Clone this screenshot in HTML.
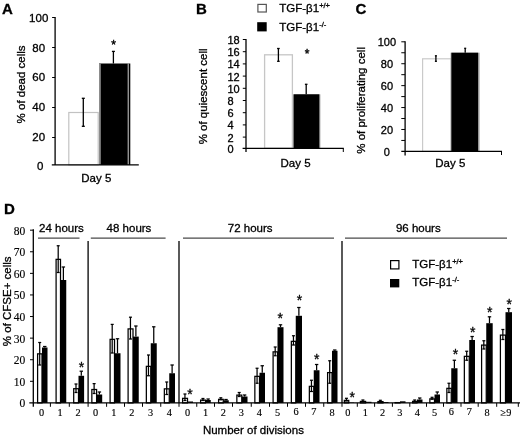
<!DOCTYPE html>
<html lang="en"><head><meta charset="utf-8"><title>Figure</title>
<style>
html,body{margin:0;padding:0;background:#fff;}
body{width:520px;height:436px;overflow:hidden;}
svg{display:block;will-change:transform;filter:grayscale(1)}
text{font-family:"Liberation Sans",Arial,sans-serif;font-size:11.5px;fill:#000;stroke:#000;stroke-width:0.3px}
.ser{font-family:"Liberation Serif","Times New Roman",serif;font-size:11.5px;stroke-width:0.15px}
.sx{font-size:10.3px}
.pl{font-weight:bold;font-size:15px}
.sup{font-size:7.5px}
.t11{font-size:11px}
.ax{stroke:#000;stroke-width:1.3;fill:none}
.bl{stroke:#000;stroke-width:1.2;fill:none}
.tk{stroke:#000;stroke-width:1;fill:none}
.eb{stroke:#000;stroke-width:1.3;fill:none}
.ebd{stroke:#000;stroke-width:1.25;fill:none}
.wb{fill:#fff;stroke:#000;stroke-width:1.25}
.bb{fill:#000;stroke:none}
.gl{stroke:#4a4a4a;stroke-width:1.2;fill:none}
.ast{font-size:12px;stroke-width:0.4px}
.astd{font-size:14px}
</style></head><body>
<svg width="520" height="436" viewBox="0 0 520 436">
<rect x="0" y="0" width="520" height="436" fill="#fff"/>

<g id="panelA">
<text x="2" y="13.5" class="pl">A</text>
<rect x="68.80" y="112.50" width="29.40" height="52.40" fill="#fff" stroke="#c2c2c2" stroke-width="1.2"/>
<rect x="99.00" y="63.50" width="31.30" height="101.40" fill="#000"/>
<rect x="99.00" y="63.50" width="1.80" height="101.40" fill="#8c8c8c"/>
<rect x="127.70" y="63.50" width="1.00" height="101.40" fill="#d0d0d0"/>
<line x1="83.30" y1="98.30" x2="83.30" y2="126.30" class="eb"/>
<line x1="81.80" y1="98.30" x2="84.80" y2="98.30" class="eb"/>
<line x1="81.80" y1="126.30" x2="84.80" y2="126.30" class="eb"/>
<line x1="113.40" y1="51.40" x2="113.40" y2="63.50" class="eb"/>
<line x1="111.90" y1="51.40" x2="114.90" y2="51.40" class="eb"/>
<text x="113.5" y="49.0" class="ast" text-anchor="middle">*</text>
<line x1="55.10" y1="17.00" x2="55.10" y2="164.90" class="ax"/>
<line x1="51.80" y1="164.90" x2="138.80" y2="164.90" class="bl"/>
<line x1="52.10" y1="17.50" x2="55.10" y2="17.50" class="tk"/>
<text x="38.7" y="22.1" text-anchor="middle">100</text>
<line x1="52.10" y1="47.50" x2="55.10" y2="47.50" class="tk"/>
<text x="38.7" y="51.8" text-anchor="middle">80</text>
<line x1="52.10" y1="77.50" x2="55.10" y2="77.50" class="tk"/>
<text x="38.7" y="81.4" text-anchor="middle">60</text>
<line x1="52.10" y1="107.50" x2="55.10" y2="107.50" class="tk"/>
<text x="38.7" y="111.0" text-anchor="middle">40</text>
<line x1="52.10" y1="137.50" x2="55.10" y2="137.50" class="tk"/>
<text x="38.7" y="140.6" text-anchor="middle">20</text>
<text x="40.2" y="170.2" text-anchor="middle">0</text>
<text x="96.3" y="182.2" text-anchor="middle">Day 5</text>
<text transform="translate(24.9,84.4) rotate(-90)" text-anchor="middle">% of dead cells</text>
</g>
<g id="panelB">
<text x="196" y="14" class="pl">B</text>
<rect x="257.90" y="4.40" width="8.40" height="7.60" fill="#fff" stroke="#555" stroke-width="1.2"/>
<rect x="257.20" y="22.20" width="9.50" height="9.20" fill="#000"/>
<text x="279.3" y="11.9">TGF-β1<tspan class="sup" dy="-4">+/+</tspan></text>
<text x="279.3" y="30.5">TGF-β1<tspan class="sup" dy="-4">-/-</tspan></text>
<rect x="264.60" y="54.80" width="27.80" height="93.50" fill="#fff" stroke="#c6c6c6" stroke-width="1.3"/>
<rect x="293.00" y="94.30" width="27.40" height="54.00" fill="#a8a8a8"/>
<rect x="293.70" y="94.30" width="25.60" height="54.00" fill="#000"/>
<line x1="278.40" y1="48.50" x2="278.40" y2="61.30" class="eb"/>
<line x1="277.10" y1="48.50" x2="279.70" y2="48.50" class="eb"/>
<line x1="277.10" y1="61.30" x2="279.70" y2="61.30" class="eb"/>
<line x1="306.20" y1="84.30" x2="306.20" y2="94.30" class="eb"/>
<line x1="304.90" y1="84.30" x2="307.50" y2="84.30" class="eb"/>
<text x="307.0" y="57.8" class="ast" text-anchor="middle">*</text>
<line x1="246.00" y1="39.00" x2="246.00" y2="152.00" class="ax"/>
<line x1="242.60" y1="148.30" x2="343.80" y2="148.30" class="bl"/>
<line x1="343.30" y1="148.30" x2="343.30" y2="152.00" class="tk"/>
<line x1="242.80" y1="39.50" x2="246.00" y2="39.50" class="tk"/>
<text x="227.5" y="44.0" class="t11" text-anchor="start">18</text>
<line x1="242.80" y1="51.70" x2="246.00" y2="51.70" class="tk"/>
<text x="227.5" y="56.2" class="t11" text-anchor="start">16</text>
<line x1="242.80" y1="63.90" x2="246.00" y2="63.90" class="tk"/>
<text x="227.5" y="68.4" class="t11" text-anchor="start">14</text>
<line x1="242.80" y1="76.10" x2="246.00" y2="76.10" class="tk"/>
<text x="227.5" y="80.6" class="t11" text-anchor="start">12</text>
<line x1="242.80" y1="88.30" x2="246.00" y2="88.30" class="tk"/>
<text x="227.5" y="92.8" class="t11" text-anchor="start">10</text>
<line x1="242.80" y1="100.50" x2="246.00" y2="100.50" class="tk"/>
<text x="227.5" y="105.0" class="t11" text-anchor="start">8</text>
<line x1="242.80" y1="112.70" x2="246.00" y2="112.70" class="tk"/>
<text x="227.5" y="117.2" class="t11" text-anchor="start">6</text>
<line x1="242.80" y1="124.90" x2="246.00" y2="124.90" class="tk"/>
<text x="227.5" y="129.4" class="t11" text-anchor="start">4</text>
<line x1="242.80" y1="137.10" x2="246.00" y2="137.10" class="tk"/>
<text x="227.5" y="141.6" class="t11" text-anchor="start">2</text>
<text x="227.5" y="153.2" class="t11" text-anchor="start">0</text>
<text x="295.6" y="167" text-anchor="middle">Day 5</text>
<text transform="translate(207.3,96.4) rotate(-90)" text-anchor="middle">% of quiescent cell</text>
</g>
<g id="panelC">
<text x="355.5" y="14" class="pl">C</text>
<rect x="422.60" y="58.80" width="28.60" height="92.60" fill="#fff" stroke="#cacaca" stroke-width="1.2"/>
<rect x="450.60" y="52.70" width="29.00" height="98.70" fill="#a8a8a8"/>
<rect x="451.40" y="52.70" width="26.70" height="98.70" fill="#000"/>
<line x1="435.90" y1="55.80" x2="435.90" y2="61.30" class="eb"/>
<line x1="434.90" y1="55.80" x2="436.90" y2="55.80" class="eb"/>
<line x1="434.90" y1="61.30" x2="436.90" y2="61.30" class="eb"/>
<line x1="465.20" y1="48.30" x2="465.20" y2="52.70" class="eb"/>
<line x1="464.20" y1="48.30" x2="466.20" y2="48.30" class="eb"/>
<line x1="405.10" y1="41.30" x2="405.10" y2="155.50" class="ax"/>
<line x1="401.30" y1="151.40" x2="502.00" y2="151.40" class="bl"/>
<line x1="501.50" y1="151.40" x2="501.50" y2="155.00" class="tk"/>
<line x1="401.30" y1="41.80" x2="405.10" y2="41.80" class="tk"/>
<text x="386.9" y="46.2" class="t11" text-anchor="middle">100</text>
<line x1="401.30" y1="52.76" x2="405.10" y2="52.76" class="tk"/>
<line x1="401.30" y1="63.72" x2="405.10" y2="63.72" class="tk"/>
<text x="386.9" y="68.1" class="t11" text-anchor="middle">80</text>
<line x1="401.30" y1="74.68" x2="405.10" y2="74.68" class="tk"/>
<line x1="401.30" y1="85.64" x2="405.10" y2="85.64" class="tk"/>
<text x="386.9" y="90.0" class="t11" text-anchor="middle">60</text>
<line x1="401.30" y1="96.60" x2="405.10" y2="96.60" class="tk"/>
<line x1="401.30" y1="107.56" x2="405.10" y2="107.56" class="tk"/>
<text x="386.9" y="112.0" class="t11" text-anchor="middle">40</text>
<line x1="401.30" y1="118.52" x2="405.10" y2="118.52" class="tk"/>
<line x1="401.30" y1="129.48" x2="405.10" y2="129.48" class="tk"/>
<text x="386.9" y="133.9" class="t11" text-anchor="middle">20</text>
<line x1="401.30" y1="140.44" x2="405.10" y2="140.44" class="tk"/>
<text x="386.9" y="155.8" class="t11" text-anchor="middle">0</text>
<text x="450.3" y="167" text-anchor="middle">Day 5</text>
<text transform="translate(365,100.4) rotate(-90)" text-anchor="middle">% of proliferating cell</text>
</g>
<g id="panelD">
<text x="4" y="214" class="pl">D</text>
<rect x="42.00" y="347.50" width="5.50" height="55.40" fill="#000"/>
<rect x="37.60" y="353.85" width="4.40" height="49.05" class="wb"/>
<line x1="39.70" y1="342.50" x2="39.70" y2="365.00" class="ebd"/>
<line x1="38.20" y1="342.50" x2="41.20" y2="342.50" class="ebd"/>
<line x1="38.20" y1="365.00" x2="41.20" y2="365.00" class="ebd"/>
<line x1="44.75" y1="346.50" x2="44.75" y2="347.50" class="ebd"/>
<line x1="43.05" y1="346.50" x2="46.45" y2="346.50" class="ebd"/>
<text x="41.7" y="415.6" class="ser sx" text-anchor="middle">0</text>
<rect x="60.50" y="280.00" width="5.75" height="122.90" fill="#000"/>
<rect x="56.10" y="259.35" width="4.40" height="143.55" class="wb"/>
<line x1="58.20" y1="245.75" x2="58.20" y2="272.50" class="ebd"/>
<line x1="56.70" y1="245.75" x2="59.70" y2="245.75" class="ebd"/>
<line x1="56.70" y1="272.50" x2="59.70" y2="272.50" class="ebd"/>
<line x1="63.38" y1="267.00" x2="63.38" y2="280.00" class="ebd"/>
<line x1="61.67" y1="267.00" x2="65.08" y2="267.00" class="ebd"/>
<text x="60" y="415.6" class="ser sx" text-anchor="middle">1</text>
<rect x="78.50" y="375.80" width="5.60" height="27.10" fill="#000"/>
<rect x="73.70" y="388.70" width="4.80" height="14.20" class="wb"/>
<line x1="76.00" y1="384.00" x2="76.00" y2="392.50" class="ebd"/>
<line x1="74.50" y1="384.00" x2="77.50" y2="384.00" class="ebd"/>
<line x1="74.50" y1="392.50" x2="77.50" y2="392.50" class="ebd"/>
<line x1="81.30" y1="371.20" x2="81.30" y2="375.80" class="ebd"/>
<line x1="79.60" y1="371.20" x2="83.00" y2="371.20" class="ebd"/>
<text x="81.5" y="372.4" class="astd" text-anchor="middle">*</text>
<text x="78" y="415.6" class="ser sx" text-anchor="middle">2</text>
<rect x="96.60" y="394.50" width="5.60" height="8.40" fill="#000"/>
<rect x="91.85" y="389.50" width="4.75" height="13.40" class="wb"/>
<line x1="94.12" y1="383.60" x2="94.12" y2="393.50" class="ebd"/>
<line x1="92.62" y1="383.60" x2="95.62" y2="383.60" class="ebd"/>
<line x1="92.62" y1="393.50" x2="95.62" y2="393.50" class="ebd"/>
<line x1="99.40" y1="392.00" x2="99.40" y2="394.50" class="ebd"/>
<line x1="97.70" y1="392.00" x2="101.10" y2="392.00" class="ebd"/>
<text x="95.6" y="415.6" class="ser sx" text-anchor="middle">0</text>
<rect x="114.50" y="353.25" width="6.00" height="49.65" fill="#000"/>
<rect x="110.10" y="339.35" width="4.40" height="63.55" class="wb"/>
<line x1="112.20" y1="324.40" x2="112.20" y2="353.00" class="ebd"/>
<line x1="110.70" y1="324.40" x2="113.70" y2="324.40" class="ebd"/>
<line x1="110.70" y1="353.00" x2="113.70" y2="353.00" class="ebd"/>
<line x1="117.50" y1="338.75" x2="117.50" y2="353.25" class="ebd"/>
<line x1="115.80" y1="338.75" x2="119.20" y2="338.75" class="ebd"/>
<text x="113.75" y="415.6" class="ser sx" text-anchor="middle">1</text>
<rect x="133.00" y="336.60" width="5.75" height="66.30" fill="#000"/>
<rect x="128.10" y="328.90" width="4.90" height="74.00" class="wb"/>
<line x1="130.45" y1="317.20" x2="130.45" y2="339.00" class="ebd"/>
<line x1="128.95" y1="317.20" x2="131.95" y2="317.20" class="ebd"/>
<line x1="128.95" y1="339.00" x2="131.95" y2="339.00" class="ebd"/>
<line x1="135.88" y1="326.00" x2="135.88" y2="336.60" class="ebd"/>
<line x1="134.18" y1="326.00" x2="137.57" y2="326.00" class="ebd"/>
<text x="131.75" y="415.6" class="ser sx" text-anchor="middle">2</text>
<rect x="150.75" y="343.25" width="6.00" height="59.65" fill="#000"/>
<rect x="146.35" y="366.35" width="4.40" height="36.55" class="wb"/>
<line x1="148.45" y1="355.00" x2="148.45" y2="375.75" class="ebd"/>
<line x1="146.95" y1="355.00" x2="149.95" y2="355.00" class="ebd"/>
<line x1="146.95" y1="375.75" x2="149.95" y2="375.75" class="ebd"/>
<line x1="153.75" y1="326.80" x2="153.75" y2="343.25" class="ebd"/>
<line x1="152.05" y1="326.80" x2="155.45" y2="326.80" class="ebd"/>
<text x="150.5" y="415.6" class="ser sx" text-anchor="middle">3</text>
<rect x="169.25" y="373.25" width="5.75" height="29.65" fill="#000"/>
<rect x="164.35" y="388.85" width="4.90" height="14.05" class="wb"/>
<line x1="166.70" y1="382.00" x2="166.70" y2="394.50" class="ebd"/>
<line x1="165.20" y1="382.00" x2="168.20" y2="382.00" class="ebd"/>
<line x1="165.20" y1="394.50" x2="168.20" y2="394.50" class="ebd"/>
<line x1="172.12" y1="365.00" x2="172.12" y2="373.25" class="ebd"/>
<line x1="170.43" y1="365.00" x2="173.82" y2="365.00" class="ebd"/>
<text x="169.25" y="415.6" class="ser sx" text-anchor="middle">4</text>
<rect x="187.50" y="401.50" width="5.50" height="1.40" fill="#000"/>
<rect x="182.60" y="398.35" width="4.90" height="4.55" class="wb"/>
<line x1="184.95" y1="394.00" x2="184.95" y2="400.50" class="ebd"/>
<line x1="183.45" y1="394.00" x2="186.45" y2="394.00" class="ebd"/>
<line x1="183.45" y1="400.50" x2="186.45" y2="400.50" class="ebd"/>
<text x="190.0" y="399.3" class="astd" text-anchor="middle">*</text>
<text x="187.5" y="415.6" class="ser sx" text-anchor="middle">0</text>
<rect x="205.50" y="400.00" width="5.25" height="2.90" fill="#000"/>
<rect x="200.60" y="400.10" width="4.90" height="2.80" class="wb"/>
<line x1="202.95" y1="398.50" x2="202.95" y2="400.50" class="ebd"/>
<line x1="201.45" y1="398.50" x2="204.45" y2="398.50" class="ebd"/>
<line x1="201.45" y1="400.50" x2="204.45" y2="400.50" class="ebd"/>
<line x1="208.12" y1="399.00" x2="208.12" y2="400.00" class="ebd"/>
<line x1="206.43" y1="399.00" x2="209.82" y2="399.00" class="ebd"/>
<text x="205.5" y="415.6" class="ser sx" text-anchor="middle">1</text>
<rect x="223.25" y="400.25" width="5.50" height="2.65" fill="#000"/>
<rect x="218.60" y="399.35" width="4.65" height="3.55" class="wb"/>
<line x1="220.82" y1="397.80" x2="220.82" y2="399.80" class="ebd"/>
<line x1="219.32" y1="397.80" x2="222.32" y2="397.80" class="ebd"/>
<line x1="219.32" y1="399.80" x2="222.32" y2="399.80" class="ebd"/>
<line x1="226.00" y1="399.50" x2="226.00" y2="400.25" class="ebd"/>
<line x1="224.30" y1="399.50" x2="227.70" y2="399.50" class="ebd"/>
<text x="223.25" y="415.6" class="ser sx" text-anchor="middle">2</text>
<rect x="241.75" y="396.50" width="5.75" height="6.40" fill="#000"/>
<rect x="236.85" y="395.10" width="4.90" height="7.80" class="wb"/>
<line x1="239.20" y1="392.50" x2="239.20" y2="396.50" class="ebd"/>
<line x1="237.70" y1="392.50" x2="240.70" y2="392.50" class="ebd"/>
<line x1="237.70" y1="396.50" x2="240.70" y2="396.50" class="ebd"/>
<line x1="244.62" y1="395.00" x2="244.62" y2="396.50" class="ebd"/>
<line x1="242.93" y1="395.00" x2="246.32" y2="395.00" class="ebd"/>
<text x="241.25" y="415.6" class="ser sx" text-anchor="middle">3</text>
<rect x="259.50" y="372.75" width="5.50" height="30.15" fill="#000"/>
<rect x="254.85" y="376.35" width="4.65" height="26.55" class="wb"/>
<line x1="257.07" y1="368.25" x2="257.07" y2="383.25" class="ebd"/>
<line x1="255.57" y1="368.25" x2="258.57" y2="368.25" class="ebd"/>
<line x1="255.57" y1="383.25" x2="258.57" y2="383.25" class="ebd"/>
<line x1="262.25" y1="365.75" x2="262.25" y2="372.75" class="ebd"/>
<line x1="260.55" y1="365.75" x2="263.95" y2="365.75" class="ebd"/>
<text x="259.25" y="415.6" class="ser sx" text-anchor="middle">4</text>
<rect x="277.50" y="327.20" width="6.00" height="75.70" fill="#000"/>
<rect x="273.10" y="351.85" width="4.40" height="51.05" class="wb"/>
<line x1="275.20" y1="347.00" x2="275.20" y2="355.75" class="ebd"/>
<line x1="273.70" y1="347.00" x2="276.70" y2="347.00" class="ebd"/>
<line x1="273.70" y1="355.75" x2="276.70" y2="355.75" class="ebd"/>
<line x1="280.50" y1="324.80" x2="280.50" y2="327.20" class="ebd"/>
<line x1="278.80" y1="324.80" x2="282.20" y2="324.80" class="ebd"/>
<text x="280.2" y="323.1" class="astd" text-anchor="middle">*</text>
<text x="277.5" y="415.6" class="ser sx" text-anchor="middle">5</text>
<rect x="295.75" y="315.80" width="6.25" height="87.10" fill="#000"/>
<rect x="291.35" y="341.35" width="4.40" height="61.55" class="wb"/>
<line x1="293.45" y1="335.75" x2="293.45" y2="345.00" class="ebd"/>
<line x1="291.95" y1="335.75" x2="294.95" y2="335.75" class="ebd"/>
<line x1="291.95" y1="345.00" x2="294.95" y2="345.00" class="ebd"/>
<line x1="298.88" y1="307.50" x2="298.88" y2="315.80" class="ebd"/>
<line x1="297.18" y1="307.50" x2="300.57" y2="307.50" class="ebd"/>
<text x="299.6" y="305.3" class="astd" text-anchor="middle">*</text>
<text x="296" y="414.5" class="ser sx" text-anchor="middle">6</text>
<rect x="313.75" y="370.25" width="5.75" height="32.65" fill="#000"/>
<rect x="309.35" y="386.35" width="4.40" height="16.55" class="wb"/>
<line x1="311.45" y1="380.25" x2="311.45" y2="391.50" class="ebd"/>
<line x1="309.95" y1="380.25" x2="312.95" y2="380.25" class="ebd"/>
<line x1="309.95" y1="391.50" x2="312.95" y2="391.50" class="ebd"/>
<line x1="316.62" y1="364.50" x2="316.62" y2="370.25" class="ebd"/>
<line x1="314.93" y1="364.50" x2="318.32" y2="364.50" class="ebd"/>
<text x="316.8" y="364.3" class="astd" text-anchor="middle">*</text>
<text x="313.75" y="414.5" class="ser sx" text-anchor="middle">7</text>
<rect x="332.00" y="350.75" width="5.50" height="52.15" fill="#000"/>
<rect x="327.60" y="372.60" width="4.40" height="30.30" class="wb"/>
<line x1="329.70" y1="360.75" x2="329.70" y2="383.25" class="ebd"/>
<line x1="328.20" y1="360.75" x2="331.20" y2="360.75" class="ebd"/>
<line x1="328.20" y1="383.25" x2="331.20" y2="383.25" class="ebd"/>
<line x1="334.75" y1="350.00" x2="334.75" y2="350.75" class="ebd"/>
<line x1="333.05" y1="350.00" x2="336.45" y2="350.00" class="ebd"/>
<text x="332" y="415.6" class="ser sx" text-anchor="middle">8</text>
<rect x="348.75" y="402.50" width="5.25" height="0.40" fill="#000"/>
<rect x="344.35" y="400.40" width="4.40" height="2.50" class="wb"/>
<line x1="346.45" y1="398.30" x2="346.45" y2="401.00" class="ebd"/>
<line x1="344.95" y1="398.30" x2="347.95" y2="398.30" class="ebd"/>
<line x1="344.95" y1="401.00" x2="347.95" y2="401.00" class="ebd"/>
<text x="352.3" y="401.7" class="astd" text-anchor="middle">*</text>
<text x="347.8" y="415.6" class="ser sx" text-anchor="middle">0</text>
<rect x="365.60" y="401.80" width="5.90" height="1.10" fill="#000"/>
<rect x="360.40" y="401.40" width="5.20" height="1.50" class="wb"/>
<line x1="362.90" y1="400.00" x2="362.90" y2="401.60" class="ebd"/>
<line x1="361.40" y1="400.00" x2="364.40" y2="400.00" class="ebd"/>
<line x1="361.40" y1="401.60" x2="364.40" y2="401.60" class="ebd"/>
<text x="365.3" y="415.6" class="ser sx" text-anchor="middle">1</text>
<rect x="383.00" y="402.00" width="5.50" height="0.90" fill="#000"/>
<rect x="377.90" y="401.60" width="5.10" height="1.30" class="wb"/>
<line x1="380.35" y1="400.30" x2="380.35" y2="401.70" class="ebd"/>
<line x1="378.85" y1="400.30" x2="381.85" y2="400.30" class="ebd"/>
<line x1="378.85" y1="401.70" x2="381.85" y2="401.70" class="ebd"/>
<text x="382.5" y="415.6" class="ser sx" text-anchor="middle">2</text>
<rect x="400.00" y="401.30" width="5.50" height="1.60" fill="#000"/>
<rect x="395.10" y="402.60" width="4.90" height="0.30" class="wb"/>
<text x="399.9" y="415.6" class="ser sx" text-anchor="middle">3</text>
<rect x="417.00" y="399.50" width="5.50" height="3.40" fill="#000"/>
<rect x="412.60" y="401.35" width="4.40" height="1.55" class="wb"/>
<line x1="414.70" y1="400.00" x2="414.70" y2="401.60" class="ebd"/>
<line x1="413.20" y1="400.00" x2="416.20" y2="400.00" class="ebd"/>
<line x1="413.20" y1="401.60" x2="416.20" y2="401.60" class="ebd"/>
<line x1="419.75" y1="398.00" x2="419.75" y2="399.50" class="ebd"/>
<line x1="418.05" y1="398.00" x2="421.45" y2="398.00" class="ebd"/>
<text x="417.4" y="415.6" class="ser sx" text-anchor="middle">4</text>
<rect x="434.50" y="394.50" width="5.50" height="8.40" fill="#000"/>
<rect x="429.85" y="398.85" width="4.65" height="4.05" class="wb"/>
<line x1="432.07" y1="397.30" x2="432.07" y2="399.20" class="ebd"/>
<line x1="430.57" y1="397.30" x2="433.57" y2="397.30" class="ebd"/>
<line x1="430.57" y1="399.20" x2="433.57" y2="399.20" class="ebd"/>
<line x1="437.25" y1="392.00" x2="437.25" y2="394.50" class="ebd"/>
<line x1="435.55" y1="392.00" x2="438.95" y2="392.00" class="ebd"/>
<text x="434.6" y="415.6" class="ser sx" text-anchor="middle">5</text>
<rect x="451.25" y="368.25" width="6.25" height="34.65" fill="#000"/>
<rect x="446.85" y="388.35" width="4.40" height="14.55" class="wb"/>
<line x1="448.95" y1="383.25" x2="448.95" y2="392.50" class="ebd"/>
<line x1="447.45" y1="383.25" x2="450.45" y2="383.25" class="ebd"/>
<line x1="447.45" y1="392.50" x2="450.45" y2="392.50" class="ebd"/>
<line x1="454.38" y1="360.25" x2="454.38" y2="368.25" class="ebd"/>
<line x1="452.68" y1="360.25" x2="456.07" y2="360.25" class="ebd"/>
<text x="455.5" y="358.6" class="astd" text-anchor="middle">*</text>
<text x="451.3" y="414.5" class="ser sx" text-anchor="middle">6</text>
<rect x="469.25" y="340.00" width="5.75" height="62.90" fill="#000"/>
<rect x="464.35" y="356.35" width="4.90" height="46.55" class="wb"/>
<line x1="466.70" y1="351.25" x2="466.70" y2="360.25" class="ebd"/>
<line x1="465.20" y1="351.25" x2="468.20" y2="351.25" class="ebd"/>
<line x1="465.20" y1="360.25" x2="468.20" y2="360.25" class="ebd"/>
<line x1="472.12" y1="336.50" x2="472.12" y2="340.00" class="ebd"/>
<line x1="470.43" y1="336.50" x2="473.82" y2="336.50" class="ebd"/>
<text x="472.7" y="336.5" class="astd" text-anchor="middle">*</text>
<text x="469.3" y="414.5" class="ser sx" text-anchor="middle">7</text>
<rect x="486.25" y="323.20" width="6.45" height="79.70" fill="#000"/>
<rect x="481.60" y="345.10" width="4.65" height="57.80" class="wb"/>
<line x1="483.82" y1="340.75" x2="483.82" y2="349.00" class="ebd"/>
<line x1="482.32" y1="340.75" x2="485.32" y2="340.75" class="ebd"/>
<line x1="482.32" y1="349.00" x2="485.32" y2="349.00" class="ebd"/>
<line x1="489.48" y1="316.80" x2="489.48" y2="323.20" class="ebd"/>
<line x1="487.78" y1="316.80" x2="491.18" y2="316.80" class="ebd"/>
<text x="489.8" y="317.3" class="astd" text-anchor="middle">*</text>
<text x="487" y="415.6" class="ser sx" text-anchor="middle">8</text>
<rect x="505.50" y="312.20" width="6.50" height="90.70" fill="#000"/>
<rect x="500.40" y="335.10" width="5.10" height="67.80" class="wb"/>
<line x1="502.85" y1="329.50" x2="502.85" y2="339.50" class="ebd"/>
<line x1="501.35" y1="329.50" x2="504.35" y2="329.50" class="ebd"/>
<line x1="501.35" y1="339.50" x2="504.35" y2="339.50" class="ebd"/>
<line x1="508.75" y1="308.50" x2="508.75" y2="312.20" class="ebd"/>
<line x1="507.05" y1="308.50" x2="510.45" y2="308.50" class="ebd"/>
<text x="509.2" y="309.0" class="astd" text-anchor="middle">*</text>
<text x="506" y="415.6" class="ser sx" text-anchor="middle">≥9</text>
<line x1="33.30" y1="229.30" x2="33.30" y2="406.80" class="ax"/>
<line x1="29.30" y1="402.90" x2="520.00" y2="402.90" class="bl"/>
<line x1="30.00" y1="230.18" x2="33.30" y2="230.18" class="tk"/>
<line x1="30.00" y1="251.77" x2="33.30" y2="251.77" class="tk"/>
<line x1="30.00" y1="273.36" x2="33.30" y2="273.36" class="tk"/>
<line x1="30.00" y1="294.95" x2="33.30" y2="294.95" class="tk"/>
<line x1="30.00" y1="316.54" x2="33.30" y2="316.54" class="tk"/>
<line x1="30.00" y1="338.13" x2="33.30" y2="338.13" class="tk"/>
<line x1="30.00" y1="359.72" x2="33.30" y2="359.72" class="tk"/>
<line x1="30.00" y1="381.31" x2="33.30" y2="381.31" class="tk"/>
<text x="25.3" y="234.7" class="ser" text-anchor="end">80</text>
<text x="25.3" y="256.3" class="ser" text-anchor="end">70</text>
<text x="25.3" y="277.9" class="ser" text-anchor="end">60</text>
<text x="25.3" y="299.4" class="ser" text-anchor="end">50</text>
<text x="25.3" y="321.0" class="ser" text-anchor="end">40</text>
<text x="25.3" y="342.6" class="ser" text-anchor="end">30</text>
<text x="25.3" y="364.2" class="ser" text-anchor="end">20</text>
<text x="25.3" y="385.8" class="ser" text-anchor="end">10</text>
<text x="25.3" y="407.4" class="ser" text-anchor="end">0</text>
<line x1="50.40" y1="402.90" x2="50.40" y2="406.80" class="tk"/>
<line x1="69.30" y1="402.90" x2="69.30" y2="406.80" class="tk"/>
<line x1="88.10" y1="402.90" x2="88.10" y2="406.80" class="tk"/>
<line x1="106.60" y1="402.90" x2="106.60" y2="406.80" class="tk"/>
<line x1="124.50" y1="402.90" x2="124.50" y2="406.80" class="tk"/>
<line x1="142.50" y1="402.90" x2="142.50" y2="406.80" class="tk"/>
<line x1="160.75" y1="402.90" x2="160.75" y2="406.80" class="tk"/>
<line x1="179.00" y1="402.90" x2="179.00" y2="406.80" class="tk"/>
<line x1="196.75" y1="402.90" x2="196.75" y2="406.80" class="tk"/>
<line x1="214.50" y1="402.90" x2="214.50" y2="406.80" class="tk"/>
<line x1="232.50" y1="402.90" x2="232.50" y2="406.80" class="tk"/>
<line x1="251.25" y1="402.90" x2="251.25" y2="406.80" class="tk"/>
<line x1="269.50" y1="402.90" x2="269.50" y2="406.80" class="tk"/>
<line x1="287.50" y1="402.90" x2="287.50" y2="406.80" class="tk"/>
<line x1="305.50" y1="402.90" x2="305.50" y2="406.80" class="tk"/>
<line x1="323.75" y1="402.90" x2="323.75" y2="406.80" class="tk"/>
<line x1="342.00" y1="402.90" x2="342.00" y2="406.80" class="tk"/>
<line x1="357.30" y1="402.90" x2="357.30" y2="406.80" class="tk"/>
<line x1="374.60" y1="402.90" x2="374.60" y2="406.80" class="tk"/>
<line x1="392.40" y1="402.90" x2="392.40" y2="406.80" class="tk"/>
<line x1="409.80" y1="402.90" x2="409.80" y2="406.80" class="tk"/>
<line x1="426.50" y1="402.90" x2="426.50" y2="406.80" class="tk"/>
<line x1="443.50" y1="402.90" x2="443.50" y2="406.80" class="tk"/>
<line x1="461.00" y1="402.90" x2="461.00" y2="406.80" class="tk"/>
<line x1="478.20" y1="402.90" x2="478.20" y2="406.80" class="tk"/>
<line x1="496.70" y1="402.90" x2="496.70" y2="406.80" class="tk"/>
<line x1="518.30" y1="402.90" x2="518.30" y2="406.80" class="tk"/>
<text transform="translate(11,301.3) rotate(-90)" text-anchor="middle">% of CFSE+ cells</text>
<text x="61.4" y="231.5" text-anchor="middle">24 hours</text>
<line x1="38.00" y1="238.10" x2="79.50" y2="238.10" class="gl"/>
<text x="129" y="231.5" text-anchor="middle">48 hours</text>
<line x1="90.80" y1="238.10" x2="165.60" y2="238.10" class="gl"/>
<text x="250.2" y="231.5" text-anchor="middle">72 hours</text>
<line x1="183.00" y1="238.10" x2="334.00" y2="238.10" class="gl"/>
<text x="418.3" y="231.5" text-anchor="middle">96 hours</text>
<line x1="345.00" y1="238.10" x2="507.00" y2="238.10" class="gl"/>
<line x1="88.1" y1="241" x2="88.1" y2="402.9" stroke="#000" stroke-width="1.3"/>
<line x1="179" y1="241" x2="179" y2="402.9" stroke="#000" stroke-width="1.3"/>
<line x1="342" y1="241" x2="342" y2="402.9" stroke="#000" stroke-width="1.3"/>
<text x="253.4" y="434" text-anchor="middle">Number of divisions</text>
<rect x="390.60" y="260.60" width="8.30" height="8.30" fill="#fff" stroke="#000" stroke-width="1.2"/>
<rect x="390.00" y="279.00" width="9.30" height="8.40" fill="#000"/>
<text x="412.3" y="267.8">TGF-β1<tspan class="sup" dy="-4">+/+</tspan></text>
<text x="412.3" y="286.3">TGF-β1<tspan class="sup" dy="-4">-/-</tspan></text>
</g>
</svg></body></html>
